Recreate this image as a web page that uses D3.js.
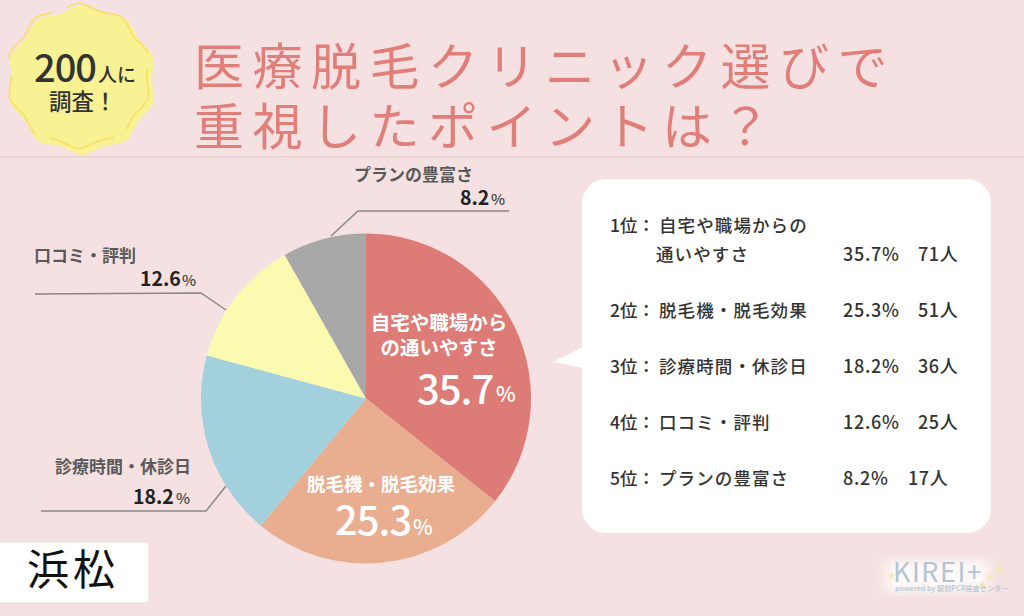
<!DOCTYPE html>
<html lang="ja"><head><meta charset="utf-8">
<script src="https://cdn.jsdelivr.net/npm/d3@7"></script>
<style>html,body{margin:0;padding:0;background:#f5e1e1;overflow:hidden}svg{display:block}
text{font-family:"Noto Sans CJK JP","Noto Sans",sans-serif}</style></head><body>
<svg id="c" width="1024" height="616"></svg>
<script>
const categories = ["自宅や職場からの通いやすさ","脱毛機・脱毛効果","診療時間・休診日","口コミ・評判","プランの豊富さ"];
const percents = [35.7,25.3,18.2,12.6,8.2];
const people = [71,51,36,25,17];
const colors = ["#dd7b76","#e9ae90","#a3d0dd","#fafab0","#a8a8a8"];
const badgeRadii = [100,93,100,93,100,93,100,93,100,93,100,93,100,93,100,93,100,93,100,93];

const svg = d3.select("#c");
const ink="#333", grey="#5a5a5a";
function T(x,y,s,size,fill,opt={}){
  return svg.append("text").attr("x",x).attr("y",y).text(s).attr("font-size",size).attr("fill",fill)
    .attr("font-weight",opt.w||400).attr("text-anchor",opt.a||"start").attr("letter-spacing",opt.ls||0);
}
svg.append("rect").attr("x",0).attr("y",156).attr("width",1024).attr("height",1.5).attr("fill","#ead3d3");

// badge
const rb=d3.scaleLinear().domain([0,100]).range([0,75]);
const ang=d3.scaleLinear().domain([0,badgeRadii.length]).range([0,2*Math.PI]);
const badge=d3.lineRadial().angle((d,i)=>ang(i)).radius(d=>rb(d)).curve(d3.curveCardinalClosed.tension(0.1));
svg.append("path").attr("d",badge(badgeRadii)).attr("transform","translate(82,80)").attr("fill","#f9f294");
svg.append("path").attr("d",badge(badgeRadii)).attr("transform","translate(79,76) scale(0.97)")
  .attr("fill","none").attr("stroke","#f9e06b").attr("stroke-width",1.8).attr("stroke-dasharray","70 16");
T(34,82,"200",38,ink,{w:500,ls:-1});
T(98,82,"人に",19,ink,{w:500});
T(49,110,"調査！",22.5,ink,{w:500});

// title
T(194,85,"医療脱毛クリニック選びで",50,"#e07f7a",{ls:8.5});
T(194,145,"重視したポイントは？",50,"#e07f7a",{ls:8.5});

// pie
const cx=366,cy=398.5,r=165;
const pie=d3.pie().sort(null).value(d=>d);
const arc=d3.arc().innerRadius(0).outerRadius(r);
const g=svg.append("g").attr("transform",`translate(${cx},${cy})`);
g.selectAll("path").data(pie(percents)).join("path").attr("d",arc).attr("fill",(d,i)=>colors[i]);

// leader lines
const lineGen=d3.line();
const leaders=[[[35,294],[201,293],[226,310]],[[41,511],[206,511],[226,486]],[[509,211],[358,211],[331,236]]];
leaders.forEach(l=>svg.append("path").attr("d",lineGen(l)).attr("fill","none").attr("stroke","#888").attr("stroke-width",1.5));

// slice labels
T(439,330,"自宅や職場から",19.5,"#fff",{w:700,a:"middle"});
T(439,355,"の通いやすさ",19.5,"#fff",{w:700,a:"middle"});
T(417,404,percents[0].toFixed(1),40,"#fff",{w:500,ls:-1});
T(496,402,"%",21,"#fff",{w:500});
T(381,491,"脱毛機・脱毛効果",18.5,"#fff",{w:700,a:"middle"});
T(335,535,percents[1].toFixed(1),40,"#fff",{w:500,ls:-1});
T(413,535,"%",21,"#fff",{w:500});

// outside labels
T(354,181,categories[4],17,grey,{w:700});
T(460,205,percents[4].toFixed(1),19.5,"#222",{w:700});
T(491,205,"%",15,"#444",{w:500});
T(34,262,categories[3],17,grey,{w:700});
T(140,286,percents[3].toFixed(1),19.5,"#222",{w:700});
T(182,286,"%",15,"#444",{w:500});
T(55,473,categories[2],17,grey,{w:700});
T(133,504,percents[2].toFixed(1),19.5,"#222",{w:700});
T(176,504,"%",15,"#444",{w:500});

// location tag
svg.append("rect").attr("x",-10).attr("y",542).attr("width",159).attr("height",61).attr("rx",4).attr("fill","#fff").attr("stroke","#eadcdc");
T(27,585,"浜松",42,"#111",{w:400,ls:4});

// table panel
svg.append("rect").attr("x",582).attr("y",179).attr("width",409).attr("height",354).attr("rx",24).attr("fill","#fff");
svg.append("path").attr("d",lineGen([[583,347],[553,362],[583,368]])).attr("fill","#fff");
const rowY=[232,317,373,429,485];
const rowLabels=["自宅や職場からの","脱毛機・脱毛効果","診療時間・休診日","口コミ・評判","プランの豊富さ"];
const pplX=[918,918,918,918,908];
const fs=17.5;
rowLabels.forEach((s,i)=>{
  T(610,rowY[i],(i+1)+"位：",fs,ink,{w:500});
  T(659,rowY[i],s,fs,ink,{w:500,ls:1.1});
  const y=i===0?261:rowY[i];
  T(843,y,percents[i].toFixed(1)+"%",18,ink,{w:500,ls:.7});
  T(pplX[i],y,people[i]+"人",18,ink,{w:500,ls:.6});
});
T(656,261,"通いやすさ",fs,ink,{w:500,ls:1.1});

// logo
svg.append("defs").append("filter").attr("id","b").append("feGaussianBlur").attr("stdDeviation",6);
svg.append("rect").attr("x",886).attr("y",560).attr("width",102).attr("height",32).attr("fill","#fff").attr("opacity",.8).attr("filter","url(#b)");
const sparkX=[891,983,990,999], sparkY=[576,585,577,570];
svg.selectAll("path.s").data(sparkX).join("path").attr("class","s")
  .attr("d",d3.symbol().type(d3.symbolStar).size(30))
  .attr("transform",(d,i)=>`translate(${d},${sparkY[i]})`).attr("fill","#f6e8b8");
T(893,582,"KIREI+",27,"#b4c4d2",{ls:1.5});
T(895,591,"powered by 駅前PCR検査センター",7.2,"#b4c4d2",{w:500});
</script></body></html>
